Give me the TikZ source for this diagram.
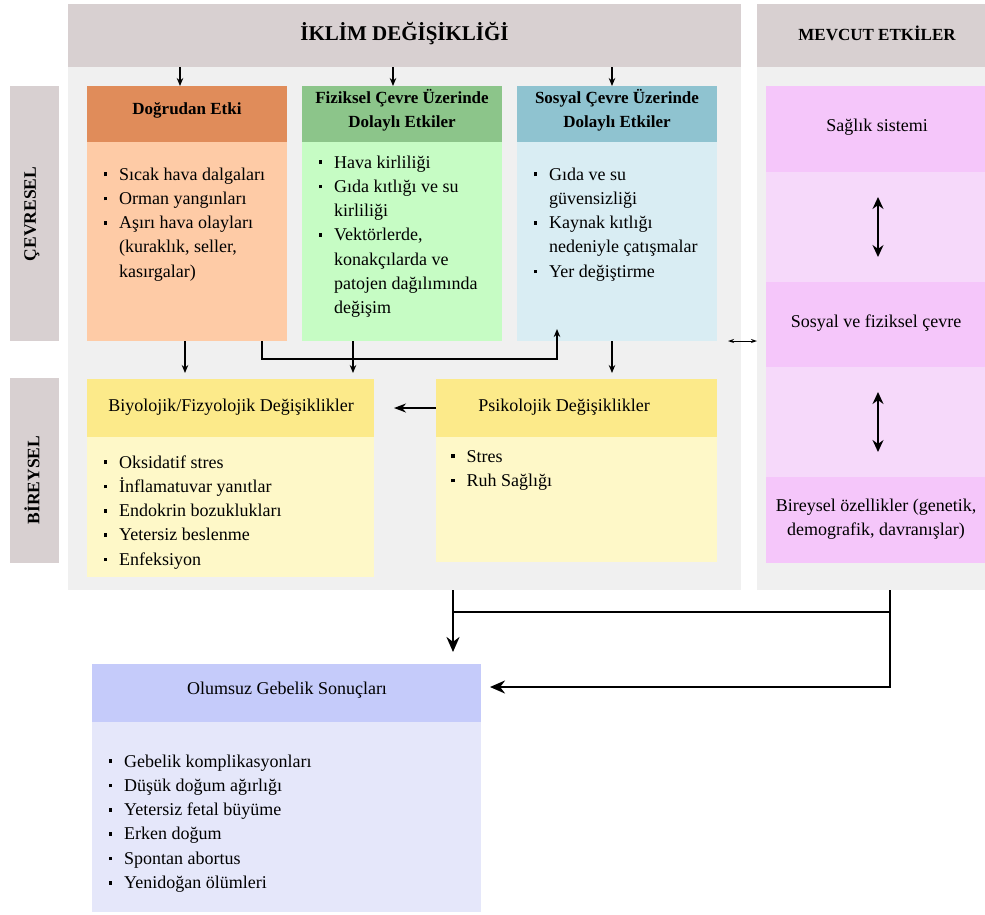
\documentclass[tikz,border=0pt]{standalone}
\usepackage{fontspec}
\setmainfont{Liberation Serif}
\usetikzlibrary{arrows.meta}
\definecolor{ttlgray}{RGB}{216,208,209}
\definecolor{panelgray}{RGB}{240,240,240}
\definecolor{orH}{RGB}{224,140,90}
\definecolor{orB}{RGB}{254,203,166}
\definecolor{grH}{RGB}{140,197,138}
\definecolor{grB}{RGB}{198,252,196}
\definecolor{blH}{RGB}{143,195,208}
\definecolor{blB}{RGB}{217,237,243}
\definecolor{ylH}{RGB}{252,234,138}
\definecolor{ylB}{RGB}{254,248,200}
\definecolor{mgD}{RGB}{245,198,250}
\definecolor{mgL}{RGB}{246,217,250}
\definecolor{vlH}{RGB}{197,203,250}
\definecolor{vlB}{RGB}{229,231,250}
\newcommand\bu{\makebox[15.5pt][l]{\raisebox{4pt}{\rule{3.3pt}{3.6pt}}}}
\newcommand\ii{\hspace*{15.5pt}}
\newcommand\bx[6]{\node[box,fill=#6,minimum width=#4pt,minimum height=#5pt] (#1) at (#2,#3) {};}
\begin{document}
\begin{tikzpicture}[x=1pt,y=-1pt,
  box/.style={anchor=north west,inner sep=0pt,outer sep=0pt,draw=none},
  hdr/.style={font=\fontsize{17}{24}\selectfont\bfseries,align=center,inner sep=0pt},
  reg/.style={font=\fontsize{18}{24.3}\selectfont,align=center,inner sep=0pt},
  lst/.style={font=\fontsize{18}{24.3}\selectfont,align=left,anchor=base west,inner sep=0pt},
  arr/.style={line width=1.3pt,-{Stealth[length=8pt,width=6.5pt]}},
  arrm/.style={line width=1.5pt,-{Stealth[length=12pt,width=9pt]}},
  dbl/.style={line width=1.5pt,{Stealth[length=12pt,width=11pt]}-{Stealth[length=12pt,width=11pt]}},
  dbls/.style={line width=1pt,{Stealth[length=6pt,width=4pt]}-{Stealth[length=6pt,width=4pt]}},
  big/.style={line width=2.4pt,-{Stealth[length=15pt,width=13pt]}},
  bigl/.style={line width=2.4pt}]
\useasboundingbox (0,0) rectangle (985,914);
% frames
\bx{tH}{68}{4}{673}{63}{ttlgray}
\bx{mainP}{68}{67}{673}{523}{panelgray}
\bx{rH}{757}{4}{228}{63}{ttlgray}
\bx{rP}{757}{67}{228}{523}{panelgray}
\bx{cev}{10}{86}{49}{255}{ttlgray}
\bx{bir}{10}{378}{49}{185}{ttlgray}
% boxes
\bx{dhH}{87}{86}{200}{56}{orH}
\bx{dhB}{87}{142}{200}{199}{orB}
\bx{fzH}{302}{86}{200}{56}{grH}
\bx{fzB}{302}{142}{200}{199}{grB}
\bx{ssH}{517}{86}{200}{56}{blH}
\bx{ssB}{517}{142}{200}{199}{blB}
\bx{byH}{87}{379}{287}{58}{ylH}
\bx{byB}{87}{437}{287}{140}{ylB}
\bx{psH}{436}{379}{281}{58}{ylH}
\bx{psB}{436}{437}{281}{125}{ylB}
\bx{m1}{766}{86}{219}{86}{mgD}
\bx{m2}{766}{172}{219}{110}{mgL}
\bx{m3}{766}{282}{219}{85}{mgD}
\bx{m4}{766}{367}{219}{110}{mgL}
\bx{m5}{766}{477}{219}{86}{mgD}
\bx{olH}{92}{664}{389}{58}{vlH}
\bx{olB}{92}{722}{389}{190}{vlB}
% titles
\node[font=\fontsize{21}{25}\selectfont\bfseries,inner sep=0pt] (tT) at ([yshift=2pt]tH.center) {İKLİM DEĞİŞİKLİĞİ};
\node[font=\fontsize{17}{20}\selectfont\bfseries,inner sep=0pt] (rT) at ([xshift=6pt,yshift=2pt]rH.center) {MEVCUT ETKİLER};
\node[font=\fontsize{17.5}{20}\selectfont\bfseries,rotate=90,inner sep=0pt] (cT) at (32,214) {ÇEVRESEL};
\node[font=\fontsize{17.5}{20}\selectfont\bfseries,rotate=90,inner sep=0pt] (bT) at (32,480) {BİREYSEL};
% headers
\node[hdr] (dhT) at (187,110) {Doğrudan Etki};
\node[hdr] (fzT) at (402,110) {Fiziksel Çevre Üzerinde\\Dolaylı Etkiler};
\node[hdr] (ssT) at (617,110) {Sosyal Çevre Üzerinde\\Dolaylı Etkiler};
\node[reg] (byT) at (231,407) {Biyolojik/Fizyolojik Değişiklikler};
\node[reg] (psT) at (564,407) {Psikolojik Değişiklikler};
\node[reg] (olT) at (287,690) {Olumsuz Gebelik Sonuçları};
\node[reg] (m1T) at (877,127) {Sağlık sistemi};
\node[reg] (m3T) at (876,323) {Sosyal ve fiziksel çevre};
\node[reg] (m5T) at (876,519) {Bireysel özellikler (genetik,\\demografik, davranışlar)};
% lists (anchor = baseline of last line)
\node[lst] (dhL) at (103.5,277.2) {\bu Sıcak hava dalgaları\\\bu Orman yangınları\\\bu Aşırı hava olayları\\\ii(kuraklık, seller,\\\ii kasırgalar)};
\node[lst] (fzL) at (318.5,313.8) {\bu Hava kirliliği\\\bu Gıda kıtlığı ve su\\\ii kirliliği\\\bu Vektörlerde,\\\ii konakçılarda ve\\\ii patojen dağılımında\\\ii değişim};
\node[lst] (ssL) at (533.5,277.2) {\bu Gıda ve su\\\ii güvensizliği\\\bu Kaynak kıtlığı\\\ii nedeniyle çatışmalar\\\bu Yer değiştirme};
\node[lst] (byL) at (103.5,565.2) {\bu Oksidatif stres\\\bu İnflamatuvar yanıtlar\\\bu Endokrin bozuklukları\\\bu Yetersiz beslenme\\\bu Enfeksiyon};
\node[lst] (psL) at (451,486.3) {\bu Stres\\\bu Ruh Sağlığı};
\node[lst] (olL) at (108.5,888.5) {\bu Gebelik komplikasyonları\\\bu Düşük doğum ağırlığı\\\bu Yetersiz fetal büyüme\\\bu Erken doğum\\\bu Spontan abortus\\\bu Yenidoğan ölümleri};
% connectors top
\draw[arr] ([xshift=93pt]dhH.north west |- tH.south) -- ([xshift=93pt]dhH.north west);
\draw[arr] ([xshift=91pt]fzH.north west |- tH.south) -- ([xshift=91pt]fzH.north west);
\draw[arr] ([xshift=95pt]ssH.north west |- tH.south) -- ([xshift=95pt]ssH.north west);
% middle
\draw[arr,shorten >=6pt] ([xshift=98pt]dhB.south west) -- ([xshift=98pt]dhB.south west |- byH.north);
\draw[arr,shorten >=6pt] ([xshift=51pt]fzB.south west) -- ([xshift=51pt]fzB.south west |- byH.north);
\draw[arr,shorten >=-12pt] ([xshift=175pt]dhB.south west) -- ++(0,18) -| ([xshift=40pt]ssB.south west);
\draw[arr,shorten >=6pt] ([xshift=95pt]ssB.south west) -- ([xshift=95pt]ssB.south west |- psH.north);
\draw[arrm,shorten >=20pt] (psH.west) -- (byH.east);
\coordinate (sa) at (728,341);
\draw[dbls] (sa) -- (sa -| rP.west);
\draw[dbl] ([xshift=2.5pt,yshift=30pt]m2.center) -- ([xshift=2.5pt,yshift=-30pt]m2.center);
\draw[dbl] ([xshift=2.5pt,yshift=30pt]m4.center) -- ([xshift=2.5pt,yshift=-30pt]m4.center);
% bottom
\draw[big,shorten >=12pt] ([xshift=385pt]mainP.south west) -- ([xshift=385pt]mainP.south west |- olH.north);
\draw[bigl] ([xshift=133pt]rP.south west) -- ++(0,22) -| ([xshift=385pt]mainP.south west);
\draw[big,shorten >=9pt] ([xshift=133pt]rP.south west) |- ([yshift=6pt]olH.east);
\end{tikzpicture}
\end{document}
